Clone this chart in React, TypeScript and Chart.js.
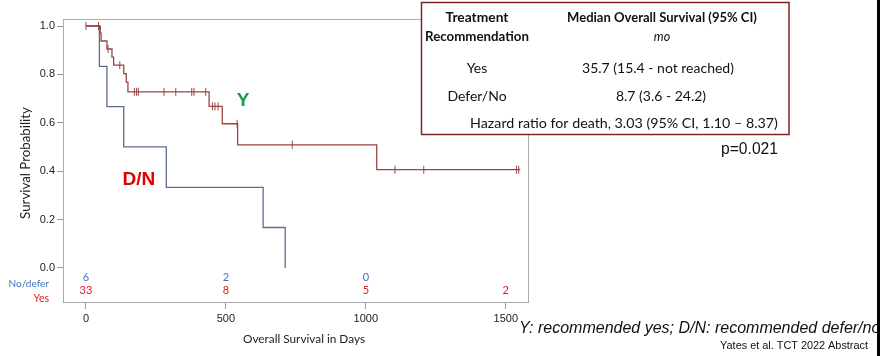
import React, { useEffect, useRef } from "react";
import { Chart, registerables } from "chart.js";
Chart.register(...registerables);

// ---- data ----
const xTickValues = [0, 500, 1000, 1500];
const yTickValues = [0, 0.2, 0.4, 0.6, 0.8, 1.0];

// Recommended "yes" group: day of event and survival after it
const yesEventDays = [0, 51, 54, 75, 93, 99, 135, 144, 150, 440, 487, 542, 1039, 1552];
const yesSurvival = [1.0, 0.97, 0.938, 0.905, 0.871, 0.838, 0.803, 0.768, 0.728, 0.668, 0.596, 0.509, 0.406, 0.406];
const yesCensorDays = [0, 45, 79, 121, 173, 181, 187, 279, 321, 378, 386, 428, 452, 461, 472, 540, 737, 1104, 1207, 1538, 1546];
const yesCensorSurvival = [1.0, 1.0, 0.905, 0.838, 0.728, 0.728, 0.728, 0.728, 0.728, 0.728, 0.728, 0.728, 0.668, 0.668, 0.668, 0.596, 0.509, 0.406, 0.406, 0.406, 0.406];

// Recommended "defer/no" group
const dnEventDays = [0, 48, 75, 135, 287, 633, 712];
const dnSurvival = [1.0, 0.833, 0.667, 0.5, 0.333, 0.167, 0.0];

// Numbers at risk
const riskTimes = [0, 500, 1000, 1500];
const riskNoDefer: (number | null)[] = [6, 2, 0, null];
const riskYes: (number | null)[] = [33, 8, 5, 2];
const riskLabels = ["No/defer", "Yes"];

// Texts
const yAxisTitle = "Survival Probability";
const xAxisTitle = "Overall Survival in Days";
const groupLabelY = "Y";
const groupLabelDN = "D/N";
const tableHeaderLeft = ["Treatment", "Recommendation"];
const tableHeaderRight = ["Median Overall Survival (95% CI)", "mo"];
const tableRowNames = ["Yes", "Defer/No"];
const tableRowValues = ["35.7 (15.4 - not reached)", "8.7 (3.6 - 24.2)"];
const hazardText = "Hazard ratio for death, 3.03 (95% CI, 1.10 \u2013 8.37)";
const pValueText = "p=0.021";
const footnoteText = "Y: recommended yes; D/N: recommended defer/no";
const sourceText = "Yates et al. TCT 2022 Abstract";

const RED_LINE = "#9a4545";
const BLUE_LINE = "#5d6d8e";
const RISK_BLUE = "#4472c4";
const RISK_RED = "#e02020";
const CALIBRI = "Lato, 'Open Sans', sans-serif";
const ARIAL = "'Liberation Sans', Arial, sans-serif";

function fitText(
  ctx: CanvasRenderingContext2D,
  text: string,
  x: number,
  y: number,
  width: number,
  family: string,
  weight = "normal",
  style = "normal",
  align: CanvasTextAlign = "center"
) {
  ctx.font = `${style} ${weight} 100px ${family}`;
  const w = ctx.measureText(text).width;
  const size = (100 * width) / w;
  ctx.font = `${style} ${weight} ${size.toFixed(2)}px ${family}`;
  ctx.textAlign = align;
  ctx.textBaseline = "middle";
  ctx.fillText(text, x, y);
}

function plainText(
  ctx: CanvasRenderingContext2D,
  text: string,
  x: number,
  y: number,
  font: string,
  align: CanvasTextAlign = "center"
) {
  ctx.font = font;
  ctx.textAlign = align;
  ctx.textBaseline = "middle";
  ctx.fillText(text, x, y);
}

const overlayPlugin = {
  id: "kmOverlay",
  beforeDatasetsDraw(chart: any) {
    const { ctx, chartArea: a } = chart;
    ctx.save();
    ctx.strokeStyle = "#ababab";
    ctx.lineWidth = 1;
    ctx.strokeRect(a.left + 0.5, a.top + 0.5, a.right - a.left - 1, a.bottom - a.top - 1);
    ctx.restore();
  },
  afterDraw(chart: any) {
    const { ctx } = chart;
    const xs = chart.scales.x;
    const ys = chart.scales.y;
    ctx.save();

    // axis titles
    ctx.fillStyle = "#222";
    ctx.save();
    ctx.translate(26, 163);
    ctx.rotate(-Math.PI / 2);
    fitText(ctx, yAxisTitle, 0, 0, 112, CALIBRI);
    ctx.restore();
    fitText(ctx, xAxisTitle, 304, 339, 122, CALIBRI);

    // numbers at risk
    const zeroY = ys.getPixelForValue(0);
    riskTimes.forEach((t, i) => {
      const px = xs.getPixelForValue(t);
      if (riskNoDefer[i] !== null) {
        ctx.fillStyle = RISK_BLUE;
        plainText(ctx, String(riskNoDefer[i]), px, zeroY + 10, `11px ${CALIBRI}`);
      }
      if (riskYes[i] !== null) {
        ctx.fillStyle = RISK_RED;
        plainText(ctx, String(riskYes[i]), px, zeroY + 23, `11px ${CALIBRI}`);
      }
    });
    ctx.fillStyle = RISK_BLUE;
    fitText(ctx, riskLabels[0], 49, zeroY + 15.5, 40.5, CALIBRI, "normal", "normal", "right");
    ctx.fillStyle = RISK_RED;
    fitText(ctx, riskLabels[1], 49, zeroY + 30.5, 15.5, CALIBRI, "normal", "normal", "right");

    // group labels
    ctx.fillStyle = "#1a9c4e";
    plainText(ctx, groupLabelY, xs.getPixelForValue(561), ys.getPixelForValue(0.69), `bold 19px ${ARIAL}`);
    ctx.fillStyle = "#e00000";
    plainText(ctx, groupLabelDN, xs.getPixelForValue(189), ys.getPixelForValue(0.363), `bold 19px ${ARIAL}`);

    // table box
    ctx.fillStyle = "#ffffff";
    ctx.fillRect(421.5, 2.5, 367.5, 132);
    ctx.strokeStyle = "#7d2424";
    ctx.lineWidth = 1.5;
    ctx.strokeRect(421.5, 2.5, 367.5, 132);
    ctx.fillStyle = "#111";
    fitText(ctx, tableHeaderLeft[0], 477, 18, 63, CALIBRI, "bold");
    fitText(ctx, tableHeaderLeft[1], 477, 37, 104, CALIBRI, "bold");
    fitText(ctx, tableHeaderRight[0], 662, 18, 190, CALIBRI, "bold");
    plainText(ctx, tableHeaderRight[1], 662, 37, `italic 12.5px ${CALIBRI}`);
    plainText(ctx, tableRowNames[0], 477, 68, `14px ${CALIBRI}`);
    plainText(ctx, tableRowValues[0], 658, 68, `14px ${CALIBRI}`);
    plainText(ctx, tableRowNames[1], 477, 96, `14px ${CALIBRI}`);
    plainText(ctx, tableRowValues[1], 661, 96, `14px ${CALIBRI}`);
    fitText(ctx, hazardText, 624, 123, 308, CALIBRI);

    // p-value, footnotes
    ctx.fillStyle = "#111";
    fitText(ctx, pValueText, 778, 150, 57, ARIAL, "normal", "normal", "right");
    plainText(ctx, footnoteText, 519, 329, `italic 16px ${ARIAL}`, "left");
    fitText(ctx, sourceText, 868, 346, 148, ARIAL, "normal", "normal", "right");

    // right edge bar
    ctx.fillStyle = "#000";
    ctx.fillRect(877, 0, 3, 356);
    ctx.restore();
  },
};

export default function App() {
  const ref = useRef<HTMLCanvasElement | null>(null);
  useEffect(() => {
    if (!ref.current) return;
    const chart = new Chart(ref.current, {
      type: "line",
      data: {
        datasets: [
          {
            label: "Yes",
            data: yesEventDays.map((d, i) => ({ x: d, y: yesSurvival[i] })),
            borderColor: RED_LINE,
            borderWidth: 1.3,
            stepped: "before",
            pointRadius: 0,
            fill: false,
            order: 0,
          },
          {
            label: "Yes censored",
            type: "scatter",
            data: yesCensorDays.map((d, i) => ({ x: d, y: yesCensorSurvival[i] })),
            borderColor: RED_LINE,
            backgroundColor: RED_LINE,
            pointStyle: "line",
            rotation: 90,
            pointRadius: 4,
            borderWidth: 1,
            showLine: false,
            order: 0,
          } as any,
          {
            label: "Defer/No",
            data: dnEventDays.map((d, i) => ({ x: d, y: dnSurvival[i] })),
            borderColor: BLUE_LINE,
            borderWidth: 1.3,
            stepped: "before",
            pointRadius: 0,
            fill: false,
            order: 1,
          },
        ],
      },
      options: {
        animation: false,
        responsive: false,
        maintainAspectRatio: false,
        layout: { padding: { left: 0, top: 19, right: 351, bottom: 0 } },
        plugins: { legend: { display: false }, tooltip: { enabled: false } },
        scales: {
          x: {
            type: "linear",
            min: -82,
            max: 1583,
            afterBuildTicks: (s: any) => {
              s.ticks = xTickValues.map((v) => ({ value: v }));
            },
            afterFit: (s: any) => {
              s.height = 53;
            },
            grid: { drawOnChartArea: false, drawTicks: true, tickLength: 6, color: "#999" },
            border: { display: false },
            ticks: {
              padding: 3,
              autoSkip: false,
              maxRotation: 0,
              color: "#222",
              font: { family: ARIAL, size: 11 },
              callback: (v: any) => String(v),
            },
          },
          y: {
            type: "linear",
            min: -0.145,
            max: 1.029,
            afterBuildTicks: (s: any) => {
              s.ticks = yTickValues.map((v) => ({ value: v }));
            },
            afterFit: (s: any) => {
              s.width = 63;
            },
            grid: { drawOnChartArea: false, drawTicks: true, tickLength: 6, color: "#999" },
            border: { display: false },
            ticks: {
              padding: 2,
              color: "#222",
              font: { family: ARIAL, size: 11 },
              callback: (v: any) => Number(v).toFixed(1),
            },
          },
        },
      },
      plugins: [overlayPlugin],
    } as any);
    return () => chart.destroy();
  }, []);
  return (
    <div style={{ position: "fixed", left: 0, top: 0, width: 880, height: 356, background: "#fff" }}>
      <canvas ref={ref} width={880} height={356} style={{ display: "block" }} />
    </div>
  );
}
